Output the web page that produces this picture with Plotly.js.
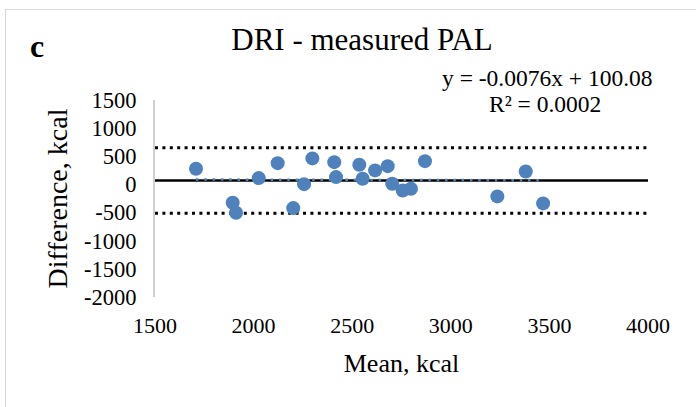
<!DOCTYPE html>
<html>
<head>
<meta charset="utf-8">
<script src="https://cdn.plot.ly/plotly-3.0.1.min.js"></script>
<style>
  html, body { margin: 0; padding: 0; background: #ffffff; }
  #frame { position: absolute; left: 5px; top: 9px; width: 720px; height: 430px; border: 1px solid #d9d9d9; box-sizing: border-box; }
  #chart { position: absolute; left: 0; top: 0; width: 696px; height: 407px; }
</style>
</head>
<body>
<div id="frame"></div>
<div id="chart"></div>
<script>
// Bland-Altman data: mean of the two methods (x) and their difference (y), kcal
const meanKcal = [1708, 1894, 1911, 2026, 2122, 2201, 2256, 2298, 2409, 2418, 2536,
                  2553, 2616, 2680, 2703, 2756, 2798, 2869, 3236, 3380, 3468];
const diffKcal = [279, -325, -503, 112, 378, -421, 5, 462, 396, 130, 350,
                  101, 249, 325, 12, -107, -76, 414, -213, 231, -337];

// Reference lines
const meanDifference = 70;
const upperLimit = 652;
const lowerLimit = -510;

// Linear trendline as printed on the chart
const trendSlope = -0.0076;
const trendIntercept = 100.08;
const trendLabel = "y = -0.0076x + 100.08";
const r2Label = "R² = 0.0002";

const xRange = [1500, 4000];
const yRange = [-2000, 1500];
const xTicks = [1500, 2000, 2500, 3000, 3500, 4000];
const yTicks = [-2000, -1500, -1000, -500, 0, 500, 1000, 1500];

const xMin = Math.min(...meanKcal), xMax = Math.max(...meanKcal);
const serif = "Liberation Serif, Times New Roman, serif";

const traces = [
  { x: xRange, y: [upperLimit, upperLimit], mode: "lines", hoverinfo: "skip",
    line: { color: "#000000", width: 3, dash: "3px,4.4px" } },
  { x: xRange, y: [lowerLimit, lowerLimit], mode: "lines", hoverinfo: "skip",
    line: { color: "#000000", width: 3, dash: "3px,4.4px" } },
  { x: xRange, y: [meanDifference, meanDifference], mode: "lines", hoverinfo: "skip",
    line: { color: "#000000", width: 2.5 } },
  { x: [xMin, xMax], y: [trendSlope * xMin + trendIntercept, trendSlope * xMax + trendIntercept],
    mode: "lines", hoverinfo: "skip",
    line: { color: "#4f81bd", width: 2.5, dash: "2.5px,5.8px" } },
  { x: meanKcal, y: diffKcal, mode: "markers",
    marker: { color: "#4f81bd", size: 14, line: { width: 0 } } }
];

const layout = {
  width: 696, height: 407,
  margin: { l: 155, r: 48, t: 100, b: 110 },
  paper_bgcolor: "rgba(0,0,0,0)",
  plot_bgcolor: "rgba(0,0,0,0)",
  showlegend: false,
  font: { family: serif, color: "#000000", size: 22 },
  title: { text: "DRI - measured PAL", font: { family: serif, size: 31, color: "#000000" },
           x: 362 / 696, xanchor: "center", y: 1 - 39 / 407, yanchor: "middle" },
  xaxis: {
    range: xRange, tickvals: xTicks, ticktext: xTicks.map(String),
    showgrid: false, zeroline: false, showline: false, ticks: "",
    tickfont: { family: serif, size: 22 }, ticklabelstandoff: 13,
    title: { text: "Mean, kcal", font: { family: serif, size: 26 }, standoff: 16 }
  },
  yaxis: {
    range: yRange, tickvals: yTicks, ticktext: yTicks.map(String),
    showgrid: false, zeroline: false, showline: true, linecolor: "#d0d0d0", linewidth: 2,
    ticks: "", tickfont: { family: serif, size: 22.5 }, ticklabelstandoff: 12,
    title: { text: "Difference, kcal", font: { family: serif, size: 28 }, standoff: 8 }
  },
  annotations: [
    { text: "<b>c</b>", xref: "paper", yref: "paper", x: (37 - 155) / 493, y: (296.6 - 46) / 197,
      xanchor: "center", yanchor: "middle", showarrow: false,
      font: { family: serif, size: 32, color: "#000000" } },
    { text: trendLabel, xref: "paper", yref: "paper", x: (547 - 155) / 493, y: (296.6 - 78) / 197,
      xanchor: "center", yanchor: "middle", showarrow: false,
      font: { family: serif, size: 23.5, color: "#000000" } },
    { text: r2Label, xref: "paper", yref: "paper", x: (545 - 155) / 493, y: (296.6 - 104) / 197,
      xanchor: "center", yanchor: "middle", showarrow: false,
      font: { family: serif, size: 23.5, color: "#000000" } }
  ]
};

Plotly.newPlot("chart", traces, layout, { displayModeBar: false, staticPlot: true });
</script>
</body>
</html>
